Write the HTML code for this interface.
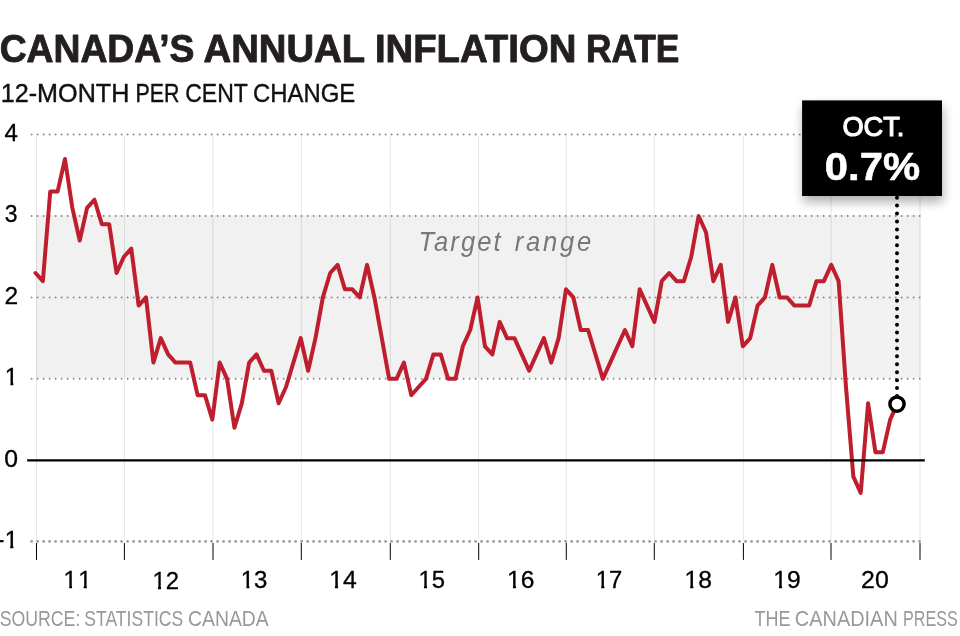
<!DOCTYPE html>
<html lang="en"><head><meta charset="utf-8"><title>Canada’s annual inflation rate</title>
<style>
html,body{margin:0;padding:0;background:#fff;}
svg{display:block;font-family:"Liberation Sans",sans-serif;}
</style></head><body>
<svg width="960" height="636" viewBox="0 0 960 636">
<defs><filter id="sh" x="-30%" y="-40%" width="160%" height="180%"><feGaussianBlur in="SourceAlpha" stdDeviation="5.5"/><feOffset dx="1" dy="5.5"/><feComponentTransfer><feFuncA type="linear" slope="0.32"/></feComponentTransfer></filter></defs>
<rect width="960" height="636" fill="#fff"/>
<defs><clipPath id="cy1"><path d="M-10 355H35V383.0H-10ZM10.45 382.0H13.30V387H10.45Z"/></clipPath><clipPath id="cym1"><path d="M-10 520H35V546.0H-10ZM10.20 545.0H13.30V550H10.20Z"/></clipPath><clipPath id="cx11"><path d="M50 557H106V586.0H50ZM69.20 585.0H72.05V590H69.20ZM83.70 585.0H86.80V590H83.70Z"/></clipPath><clipPath id="cx12"><path d="M138 557H194V587.0H138ZM157.95 586.0H161.05V591H157.95ZM165.35 586.0H194V592H165.35Z"/></clipPath><clipPath id="cx13"><path d="M226 557H282V586.0H226ZM246.45 585.0H249.30V590H246.45ZM253.60 585.0H282V591H253.60Z"/></clipPath><clipPath id="cx14"><path d="M315 557H371V586.0H315ZM334.95 585.0H338.05V590H334.95ZM342.35 585.0H371V591H342.35Z"/></clipPath><clipPath id="cx15"><path d="M404 557H460V586.0H404ZM423.95 585.0H427.05V590H423.95ZM431.35 585.0H460V591H431.35Z"/></clipPath><clipPath id="cx16"><path d="M492 557H548V586.0H492ZM512.95 585.0H516.05V590H512.95ZM520.35 585.0H548V591H520.35Z"/></clipPath><clipPath id="cx17"><path d="M580 557H636V586.0H580ZM601.20 585.0H604.30V590H601.20ZM608.60 585.0H636V591H608.60Z"/></clipPath><clipPath id="cx18"><path d="M670 557H726V586.0H670ZM690.20 585.0H693.30V590H690.20ZM697.60 585.0H726V591H697.60Z"/></clipPath><clipPath id="cx19"><path d="M758 557H814V586.0H758ZM778.95 585.0H782.05V590H778.95ZM786.35 585.0H814V591H786.35Z"/></clipPath></defs>
<text y="61.70" font-size="38.79" font-weight="bold" font-style="normal" fill="#231f20" stroke="#231f20" stroke-width="0.9" stroke-linejoin="round"><tspan x="-0.37" textLength="194.76" lengthAdjust="spacingAndGlyphs">CANADA’S</tspan> <tspan x="203.51" textLength="160.97" lengthAdjust="spacingAndGlyphs">ANNUAL</tspan> <tspan x="374.89" textLength="201.50" lengthAdjust="spacingAndGlyphs">INFLATION</tspan> <tspan x="585.95" textLength="93.47" lengthAdjust="spacingAndGlyphs">RATE</tspan></text>
<text y="101.70" font-size="25.76" font-weight="normal" font-style="normal" fill="#111" stroke="#111" stroke-width="0.4" stroke-linejoin="round"><tspan x="0.75" textLength="128.60" lengthAdjust="spacingAndGlyphs">12-MONTH</tspan> <tspan x="135.53" textLength="44.02" lengthAdjust="spacingAndGlyphs">PER</tspan> <tspan x="185.19" textLength="62.24" lengthAdjust="spacingAndGlyphs">CENT</tspan> <tspan x="253.08" textLength="102.22" lengthAdjust="spacingAndGlyphs">CHANGE</tspan></text>
<rect x="36.2" y="215.3" width="884.3" height="162.70" fill="#f1f1f1"/>
<line x1="36.50" y1="135.8" x2="36.50" y2="540.5" stroke="#000" stroke-opacity="0.1" stroke-width="1"/>
<line x1="124.40" y1="135.8" x2="124.40" y2="540.5" stroke="#000" stroke-opacity="0.1" stroke-width="1"/>
<line x1="213.00" y1="135.8" x2="213.00" y2="540.5" stroke="#000" stroke-opacity="0.1" stroke-width="1"/>
<line x1="301.30" y1="135.8" x2="301.30" y2="540.5" stroke="#000" stroke-opacity="0.1" stroke-width="1"/>
<line x1="390.30" y1="135.8" x2="390.30" y2="540.5" stroke="#000" stroke-opacity="0.1" stroke-width="1"/>
<line x1="478.70" y1="135.8" x2="478.70" y2="540.5" stroke="#000" stroke-opacity="0.1" stroke-width="1"/>
<line x1="566.30" y1="135.8" x2="566.30" y2="540.5" stroke="#000" stroke-opacity="0.1" stroke-width="1"/>
<line x1="654.30" y1="135.8" x2="654.30" y2="540.5" stroke="#000" stroke-opacity="0.1" stroke-width="1"/>
<line x1="743.40" y1="135.8" x2="743.40" y2="540.5" stroke="#000" stroke-opacity="0.1" stroke-width="1"/>
<line x1="831.00" y1="135.8" x2="831.00" y2="540.5" stroke="#000" stroke-opacity="0.1" stroke-width="1"/>
<line x1="920.00" y1="135.8" x2="920.00" y2="540.5" stroke="#000" stroke-opacity="0.1" stroke-width="1"/>
<line x1="31.65" y1="134.58" x2="921" y2="134.58" stroke="#8c8c8c" stroke-width="2" stroke-linecap="round" stroke-dasharray="0 6"/>
<line x1="31.65" y1="216.01" x2="921" y2="216.01" stroke="#8c8c8c" stroke-width="2" stroke-linecap="round" stroke-dasharray="0 6"/>
<line x1="31.65" y1="297.44" x2="921" y2="297.44" stroke="#8c8c8c" stroke-width="2" stroke-linecap="round" stroke-dasharray="0 6"/>
<line x1="31.65" y1="378.87" x2="921" y2="378.87" stroke="#8c8c8c" stroke-width="2" stroke-linecap="round" stroke-dasharray="0 6"/>
<line x1="31.6" y1="541.4" x2="921" y2="541.4" stroke="#999" stroke-width="2.8" stroke-linecap="round" stroke-dasharray="0 6"/>
<line x1="36.50" y1="543" x2="36.50" y2="559.9" stroke="#000" stroke-width="1"/>
<line x1="124.40" y1="543" x2="124.40" y2="559.9" stroke="#000" stroke-width="1"/>
<line x1="213.00" y1="543" x2="213.00" y2="559.9" stroke="#000" stroke-width="1"/>
<line x1="301.30" y1="543" x2="301.30" y2="559.9" stroke="#000" stroke-width="1"/>
<line x1="390.30" y1="543" x2="390.30" y2="559.9" stroke="#000" stroke-width="1"/>
<line x1="478.70" y1="543" x2="478.70" y2="559.9" stroke="#000" stroke-width="1"/>
<line x1="566.30" y1="543" x2="566.30" y2="559.9" stroke="#000" stroke-width="1"/>
<line x1="654.30" y1="543" x2="654.30" y2="559.9" stroke="#000" stroke-width="1"/>
<line x1="743.40" y1="543" x2="743.40" y2="559.9" stroke="#000" stroke-width="1"/>
<line x1="831.00" y1="543" x2="831.00" y2="559.9" stroke="#000" stroke-width="1"/>
<line x1="920.00" y1="543" x2="920.00" y2="559.9" stroke="#000" stroke-width="1"/>
<polyline points="35.50,273.01 42.87,281.15 50.24,191.58 57.60,191.58 64.97,159.01 72.34,207.87 79.71,240.44 87.08,207.87 94.44,199.72 101.81,224.15 109.18,224.15 116.55,273.01 123.92,256.73 131.28,248.58 138.65,305.58 146.02,297.44 153.39,362.58 160.76,338.15 168.12,354.44 175.49,362.58 182.86,362.58 190.23,362.58 197.60,395.16 204.96,395.16 212.33,419.59 219.70,362.58 227.07,378.87 234.44,427.73 241.80,403.30 249.17,362.58 256.54,354.44 263.91,370.73 271.28,370.73 278.64,403.30 286.01,387.01 293.38,362.58 300.75,338.15 308.12,370.73 315.48,338.15 322.85,297.44 330.22,273.01 337.59,264.87 344.96,289.30 352.32,289.30 359.69,297.44 367.06,264.87 374.43,297.44 381.80,338.15 389.16,378.87 396.53,378.87 403.90,362.58 411.27,395.16 418.64,387.01 426.00,378.87 433.37,354.44 440.74,354.44 448.11,378.87 455.48,378.87 462.84,346.30 470.21,330.01 477.58,297.44 484.95,346.30 492.32,354.44 499.68,321.87 507.05,338.15 514.42,338.15 521.79,354.44 529.16,370.73 536.52,354.44 543.89,338.15 551.26,362.58 558.63,338.15 566.00,289.30 573.36,297.44 580.73,330.01 588.10,330.01 595.47,354.44 602.84,378.87 610.20,362.58 617.57,346.30 624.94,330.01 632.31,346.30 639.68,289.30 647.04,305.58 654.41,321.87 661.78,281.15 669.15,273.01 676.52,281.15 683.88,281.15 691.25,256.73 698.62,216.01 705.99,232.30 713.36,281.15 720.72,264.87 728.09,321.87 735.46,297.44 742.83,346.30 750.20,338.15 757.56,305.58 764.93,297.44 772.30,264.87 779.67,297.44 787.04,297.44 794.40,305.58 801.77,305.58 809.14,305.58 816.51,281.15 823.88,281.15 831.24,264.87 838.61,281.15 845.98,387.01 853.35,476.59 860.72,492.87 868.08,403.30 875.45,452.16 882.82,452.16 890.19,419.59 897.56,403.30" fill="none" stroke="#be1e2d" stroke-width="4" stroke-linejoin="round" stroke-linecap="round"/>
<line x1="27.2" y1="460.4" x2="924.8" y2="460.4" stroke="#000" stroke-width="2.2"/>
<text x="4.45" y="140.56" font-size="23.93" font-weight="normal" font-style="normal" fill="#000" stroke="#000" stroke-width="0.3" stroke-linejoin="round" textLength="13.45" lengthAdjust="spacingAndGlyphs">4</text>
<text x="4.76" y="221.70" font-size="23.93" font-weight="normal" font-style="normal" fill="#000" stroke="#000" stroke-width="0.3" stroke-linejoin="round" textLength="12.81" lengthAdjust="spacingAndGlyphs">3</text>
<text x="4.51" y="303.70" font-size="23.93" font-weight="normal" font-style="normal" fill="#000" stroke="#000" stroke-width="0.3" stroke-linejoin="round" textLength="13.68" lengthAdjust="spacingAndGlyphs">2</text>
<text x="4.38" y="466.70" font-size="23.93" font-weight="normal" font-style="normal" fill="#000" stroke="#000" stroke-width="0.3" stroke-linejoin="round" textLength="13.78" lengthAdjust="spacingAndGlyphs">0</text>
<text x="4.8" y="384.5" font-size="23.93" fill="#000" stroke="#000" stroke-width="0.3" clip-path="url(#cy1)">1</text>
<text x="-3.4" y="547.5" font-size="23.96" fill="#000" stroke="#000" stroke-width="0.3" textLength="21.4" lengthAdjust="spacing" clip-path="url(#cym1)"><tspan dy="-1">-</tspan><tspan dy="1">1</tspan></text>
<text x="63.50" y="587.70" font-size="23.96" font-weight="normal" font-style="normal" fill="#000" stroke="#000" stroke-width="0.3" stroke-linejoin="round" clip-path="url(#cx11)" textLength="28.00" lengthAdjust="spacing">11</text>
<text x="152.44" y="588.70" font-size="23.96" font-weight="normal" font-style="normal" fill="#000" stroke="#000" stroke-width="0.3" stroke-linejoin="round" clip-path="url(#cx12)" textLength="26.58" lengthAdjust="spacingAndGlyphs">12</text>
<text x="240.74" y="587.70" font-size="23.96" font-weight="normal" font-style="normal" fill="#000" stroke="#000" stroke-width="0.3" stroke-linejoin="round" clip-path="url(#cx13)" textLength="26.69" lengthAdjust="spacingAndGlyphs">13</text>
<text x="329.18" y="587.70" font-size="23.96" font-weight="normal" font-style="normal" fill="#000" stroke="#000" stroke-width="0.3" stroke-linejoin="round" clip-path="url(#cx14)" textLength="27.48" lengthAdjust="spacingAndGlyphs">14</text>
<text x="418.41" y="587.70" font-size="23.96" font-weight="normal" font-style="normal" fill="#000" stroke="#000" stroke-width="0.3" stroke-linejoin="round" clip-path="url(#cx15)" textLength="26.49" lengthAdjust="spacingAndGlyphs">15</text>
<text x="507.11" y="587.70" font-size="23.96" font-weight="normal" font-style="normal" fill="#000" stroke="#000" stroke-width="0.3" stroke-linejoin="round" clip-path="url(#cx16)" textLength="27.39" lengthAdjust="spacingAndGlyphs">16</text>
<text x="595.75" y="587.70" font-size="23.96" font-weight="normal" font-style="normal" fill="#000" stroke="#000" stroke-width="0.3" stroke-linejoin="round" clip-path="url(#cx17)" textLength="26.53" lengthAdjust="spacingAndGlyphs">17</text>
<text x="684.59" y="587.70" font-size="23.96" font-weight="normal" font-style="normal" fill="#000" stroke="#000" stroke-width="0.3" stroke-linejoin="round" clip-path="url(#cx18)" textLength="27.42" lengthAdjust="spacingAndGlyphs">18</text>
<text x="773.32" y="587.70" font-size="23.96" font-weight="normal" font-style="normal" fill="#000" stroke="#000" stroke-width="0.3" stroke-linejoin="round" clip-path="url(#cx19)" textLength="27.36" lengthAdjust="spacingAndGlyphs">19</text>
<text x="861.12" y="587.70" font-size="23.96" font-weight="normal" font-style="normal" fill="#000" stroke="#000" stroke-width="0.3" stroke-linejoin="round" textLength="27.67" lengthAdjust="spacingAndGlyphs">20</text>
<text transform="translate(418.50,250.6) scale(0.92,1)" font-size="27.88" font-style="italic" fill="#787878" textLength="89.35" lengthAdjust="spacing">Target</text>
<text transform="translate(514.80,250.6) scale(0.92,1)" font-size="27.88" font-style="italic" fill="#787878" textLength="83.04" lengthAdjust="spacing">range</text>
<rect x="802.1" y="100.4" width="139.9" height="95.6" fill="#000" filter="url(#sh)"/>
<rect x="802.1" y="100.4" width="139.9" height="95.6" fill="#000"/>
<text x="842.40" y="135.70" font-size="27.64" font-weight="normal" font-style="normal" fill="#fff" stroke="#fff" stroke-width="1.2" stroke-linejoin="round" textLength="62.00" lengthAdjust="spacingAndGlyphs">OCT.</text>
<text x="824.85" y="179.70" font-size="38.76" font-weight="bold" font-style="normal" fill="#fff" stroke="#fff" stroke-width="0.6" stroke-linejoin="round" textLength="95.17" lengthAdjust="spacingAndGlyphs">0.7%</text>
<line x1="897" y1="197.67" x2="897" y2="397" stroke="#000" stroke-width="4" stroke-linecap="round" stroke-dasharray="0 7.935"/>
<circle cx="897" cy="404.1" r="7.1" fill="#fff" stroke="#000" stroke-width="3.5"/>
<text y="625.70" font-size="22.13" font-weight="normal" font-style="normal" fill="#999"><tspan x="-0.20" textLength="80.48" lengthAdjust="spacingAndGlyphs">SOURCE:</tspan> <tspan x="84.26" textLength="98.99" lengthAdjust="spacingAndGlyphs">STATISTICS</tspan> <tspan x="187.98" textLength="80.85" lengthAdjust="spacingAndGlyphs">CANADA</tspan></text>
<text y="625.70" font-size="22.13" font-weight="normal" font-style="normal" fill="#999"><tspan x="754.42" textLength="36.01" lengthAdjust="spacingAndGlyphs">THE</tspan> <tspan x="794.85" textLength="102.94" lengthAdjust="spacingAndGlyphs">CANADIAN</tspan> <tspan x="903.07" textLength="54.71" lengthAdjust="spacingAndGlyphs">PRESS</tspan></text>
</svg></body></html>
